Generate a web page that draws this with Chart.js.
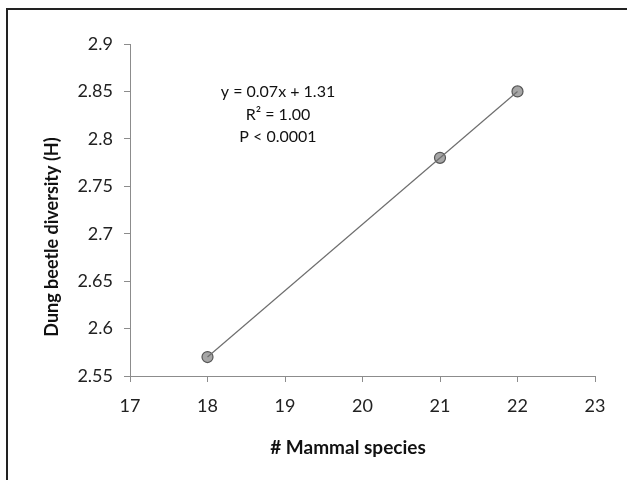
<!DOCTYPE html>
<html>
<head>
<meta charset="utf-8">
<script src="https://cdn.jsdelivr.net/npm/chart.js@4.4.1/dist/chart.umd.min.js"></script>
<style>
  html, body { margin: 0; padding: 0; background: #fff; }
  #wrap { position: relative; width: 627px; height: 480px; }
  #frame { position: absolute; left: 6px; top: 8px; width: 640px; height: 500px;
           border-left: 2px solid #222; border-top: 2px solid #222; }
  canvas { position: absolute; left: 0; top: 0; }
</style>
</head>
<body>
<div id="wrap">
  <div id="frame"></div>
  <canvas id="chart" width="627" height="480"></canvas>
</div>
<script>
// Data
const mammalSpecies = [18, 21, 22];
const beetleDiversity = [2.57, 2.78, 2.85];
const xTicks = [17, 18, 19, 20, 21, 22, 23];
const yTicks = [2.55, 2.6, 2.65, 2.7, 2.75, 2.8, 2.85, 2.9];
const fitLabel = ['y = 0.07x + 1.31', 'R² = 1.00', 'P < 0.0001'];

const xTitle = '# Mammal species';
const yTitle = 'Dung beetle diversity (H)';
const fontFamily = 'Lato, "Open Sans", sans-serif';

// fitted line endpoints at the first and last x of the data
const slope = (beetleDiversity[2] - beetleDiversity[0]) / (mammalSpecies[2] - mammalSpecies[0]);
const trendData = [
    { x: mammalSpecies[0], y: beetleDiversity[0] },
    { x: mammalSpecies[2], y: beetleDiversity[0] + slope * (mammalSpecies[2] - mammalSpecies[0]) }
];

// Draws the equation box and both axis titles
const textPlugin = {
    id: 'textPlugin',
    afterDraw(chart) {
        const ctx = chart.ctx;
        const area = chart.chartArea;
        ctx.save();
        ctx.fillStyle = '#111';
        ctx.textAlign = 'center';
        ctx.textBaseline = 'middle';
        ctx.font = '16px ' + fontFamily;
        fitLabel.forEach((line, i) => {
            ctx.fillText(line, area.left + 148, area.top + 48 + i * 22.5);
        });

        ctx.font = 'bold 19px ' + fontFamily;
        ctx.fillText(xTitle, 348, 448);

        ctx.font = 'bold 18px ' + fontFamily;
        ctx.translate(52, 237);
        ctx.rotate(-Math.PI / 2);
        ctx.fillText(yTitle, 0, 0);
        ctx.restore();
    }
};

const tickFont = { family: fontFamily, size: 18 };

new Chart(document.getElementById('chart'), {
    type: 'scatter',
    data: {
        datasets: [
            {
                label: 'fit',
                type: 'line',
                data: trendData,
                borderColor: '#6e6e6e',
                borderWidth: 1.2,
                pointRadius: 0,
                fill: false
            },
            {
                label: 'sites',
                data: mammalSpecies.map((x, i) => ({ x: x, y: beetleDiversity[i] })),
                backgroundColor: '#a6a6a6',
                borderColor: '#555',
                borderWidth: 1.2,
                pointRadius: 5.5
            }
        ]
    },
    options: {
        responsive: false,
        animation: false,
        layout: { padding: { left: 0, top: 44, right: 32, bottom: 0 } },
        plugins: { legend: { display: false }, tooltip: { enabled: false } },
        scales: {
            x: {
                type: 'linear',
                min: xTicks[0],
                max: xTicks[xTicks.length - 1],
                afterBuildTicks: scale => { scale.ticks = xTicks.map(v => ({ value: v })); },
                afterFit: scale => { scale.height = 104; },
                grid: { drawOnChartArea: false, drawTicks: true, tickLength: 6, color: '#8c8c8c' },
                border: { display: true, color: '#8c8c8c', width: 1 },
                ticks: { color: '#222', font: tickFont, padding: 13 }
            },
            y: {
                type: 'linear',
                min: yTicks[0],
                max: yTicks[yTicks.length - 1],
                afterBuildTicks: scale => { scale.ticks = yTicks.map(v => ({ value: v })); },
                afterFit: scale => { scale.width = 130; },
                grid: { drawOnChartArea: false, drawTicks: true, tickLength: 6, color: '#8c8c8c' },
                border: { display: true, color: '#8c8c8c', width: 1 },
                ticks: {
                    color: '#222', font: tickFont, padding: 11,
                    callback: v => String(Math.round(v * 100) / 100)
                }
            }
        }
    },
    plugins: [textPlugin]
});
</script>
</body>
</html>
